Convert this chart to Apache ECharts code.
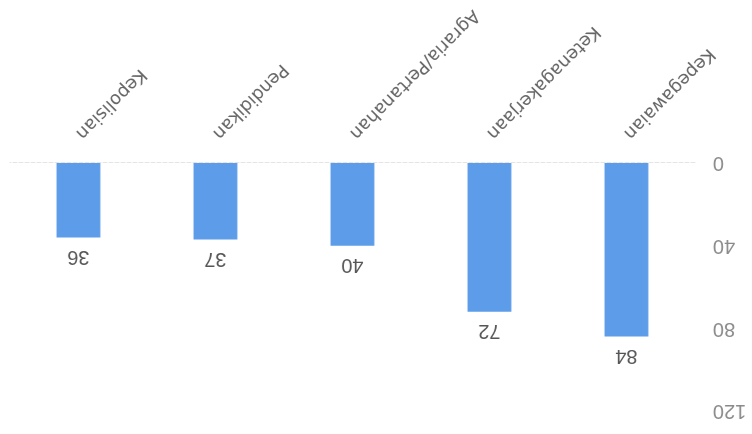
<!DOCTYPE html>
<html>
<head>
<meta charset="utf-8">
<script src="https://cdn.jsdelivr.net/npm/echarts@6/dist/echarts.min.js"></script>
<style>
  html, body { margin: 0; padding: 0; background: #ffffff; }
  #chart { width: 752px; height: 434px; transform: rotate(180deg); }
</style>
</head>
<body>
<div id="chart"></div>
<script>
// Categories and counts
const categories = ["Kepegawaian", "Ketenagakerjaan", "Agraria/Pertanahan", "Pendidikan", "Kepolisian"];
const counts = [84, 72, 40, 37, 36];
const yTicks = [0, 40, 80, 120];

const chart = echarts.init(document.getElementById('chart'), null, { renderer: 'canvas' });

chart.setOption({
  animation: false,
  textStyle: { fontFamily: 'Liberation Sans, Arial, sans-serif' },
  grid: { left: 57, right: 10, top: 23, bottom: 163, containLabel: false },
  xAxis: {
    type: 'category',
    data: categories,
    axisLine: { show: true, lineStyle: { color: '#e4e4e4', type: 'dashed', width: 1 } },
    axisTick: { show: false },
    axisLabel: {
      rotate: 45,
      margin: 27,
      fontSize: 18,
      fontFamily: 'DejaVu Sans, Verdana, sans-serif',
      color: '#666666',
      interval: 0
    }
  },
  yAxis: {
    type: 'value',
    min: yTicks[0],
    max: yTicks[yTicks.length - 1],
    interval: yTicks[1] - yTicks[0],
    axisLine: { show: false },
    axisTick: { show: false },
    splitLine: { show: false },
    axisLabel: { fontSize: 20, color: '#8a8a8a', margin: 18 }
  },
  series: [{
    type: 'bar',
    data: counts,
    barWidth: '32%',
    itemStyle: { color: '#5d9ce9' },
    label: {
      show: true,
      position: 'top',
      distance: 9,
      fontSize: 20,
      color: '#555555'
    }
  }]
});
</script>
</body>
</html>
